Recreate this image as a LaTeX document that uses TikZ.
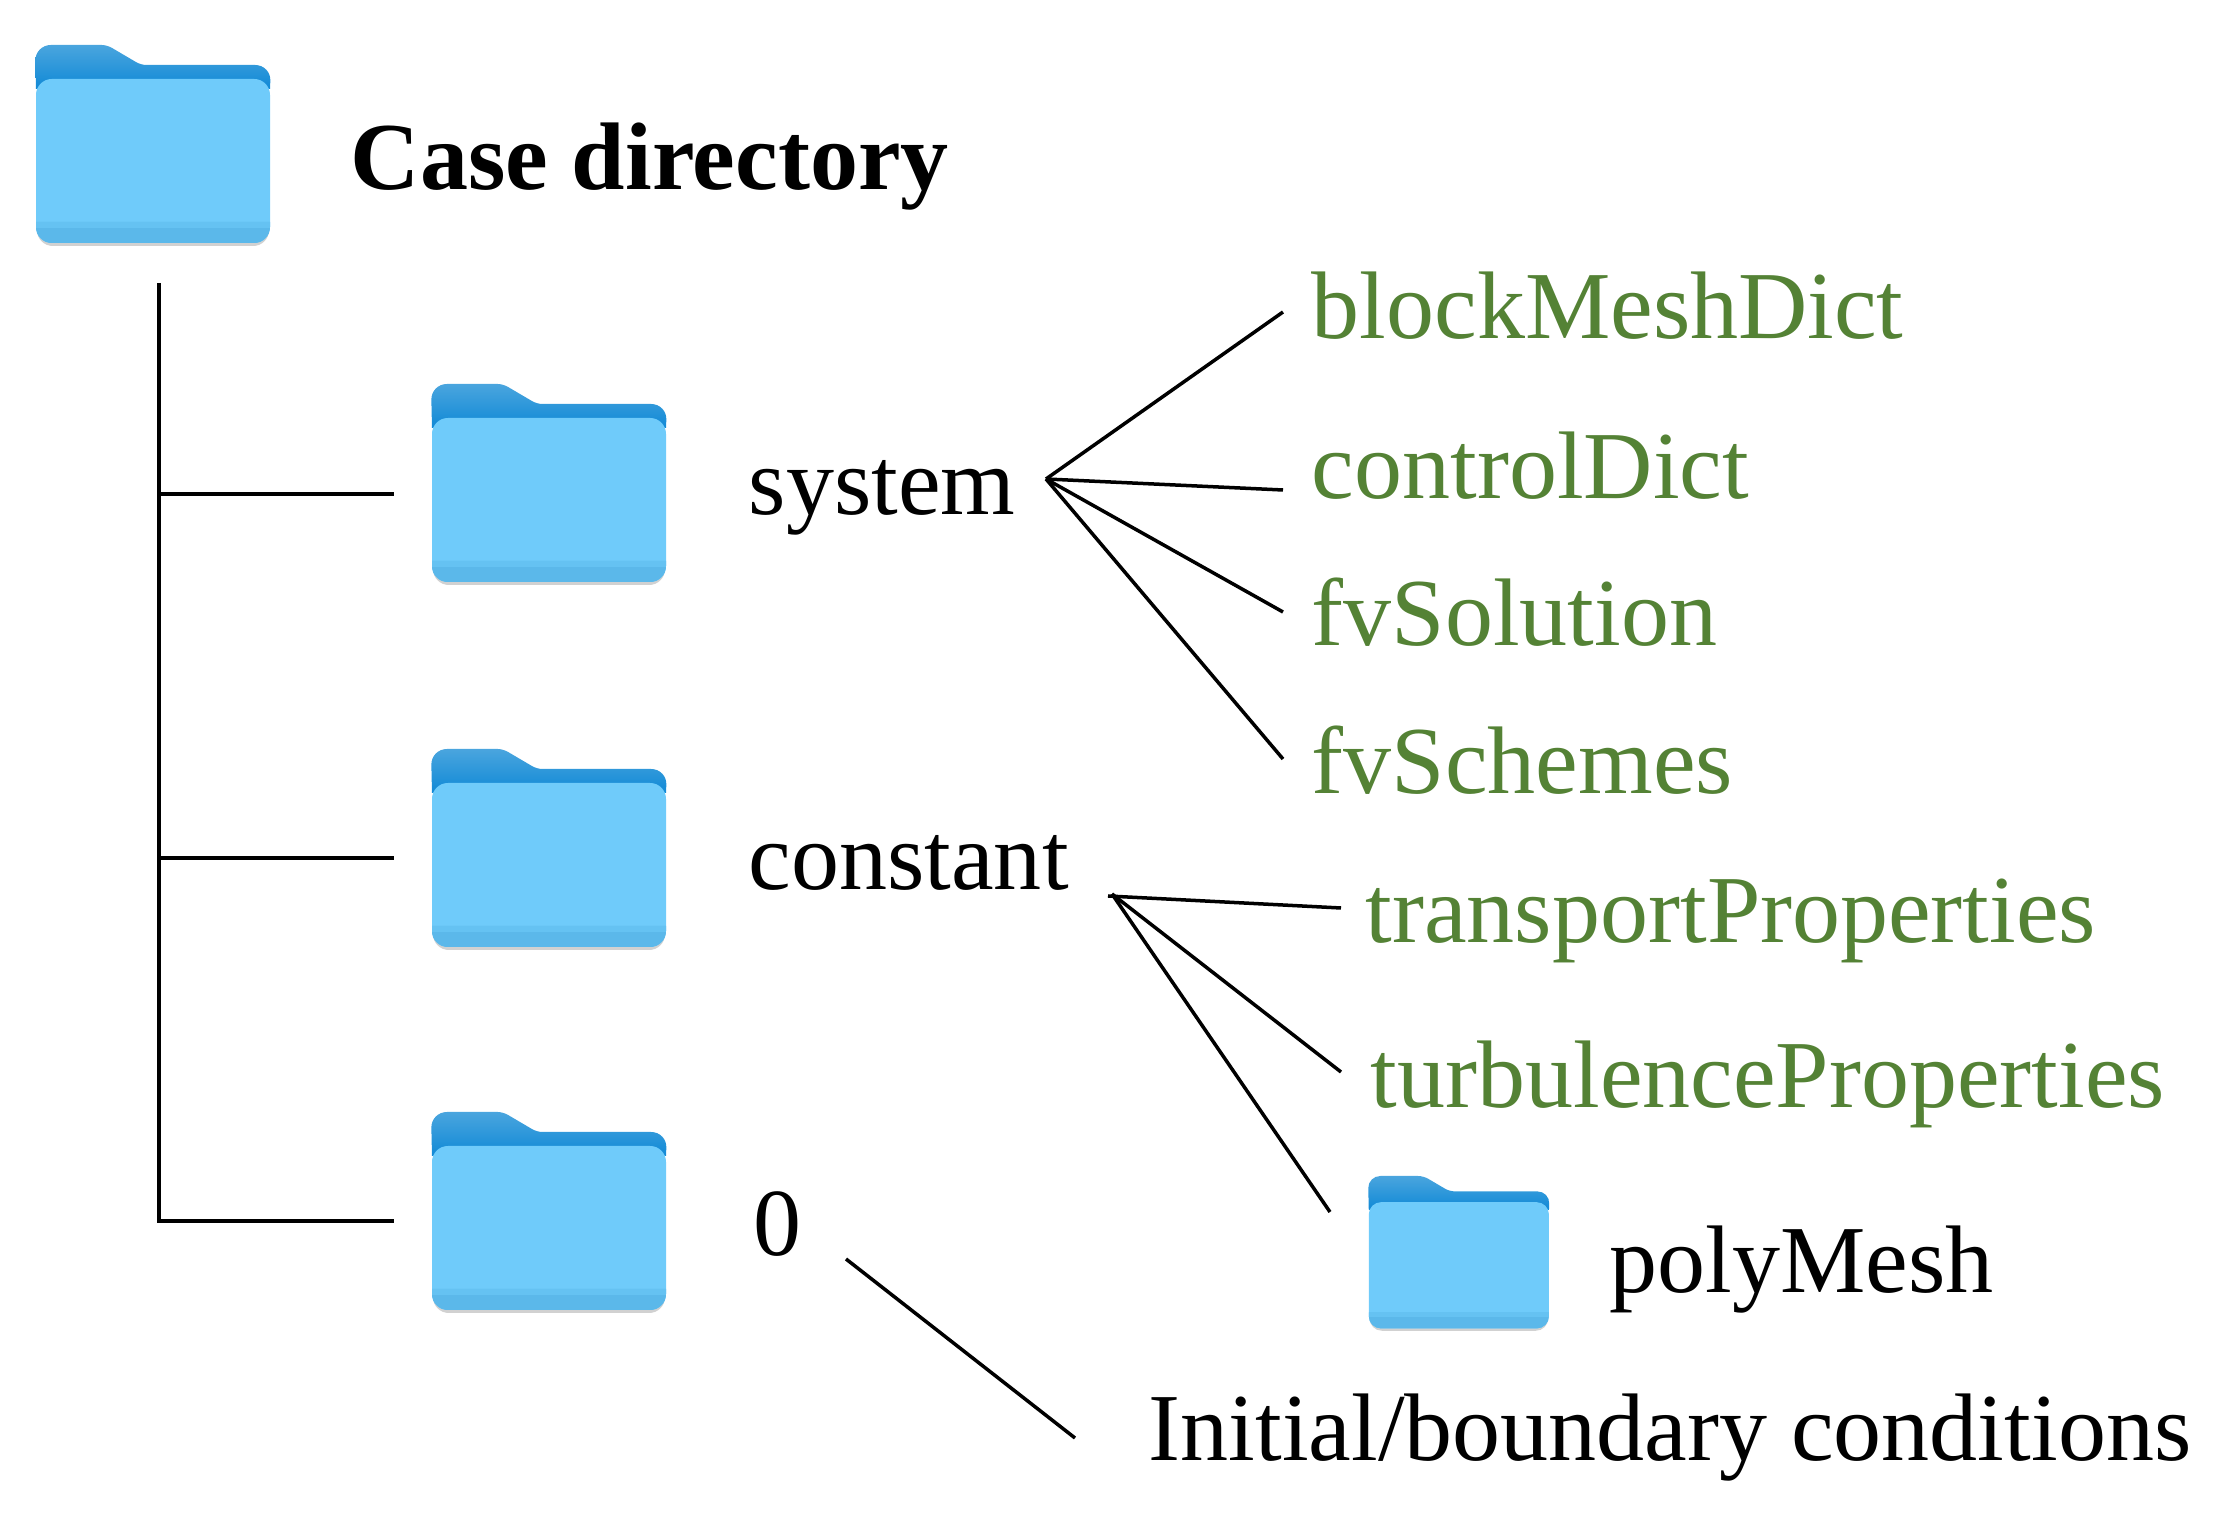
\documentclass[tikz,border=0pt]{standalone}
\usepackage{fontspec}
\setmainfont{Liberation Serif}
\usetikzlibrary{calc}
\usetikzlibrary{positioning}

\definecolor{folderback}{HTML}{1089D6}
\definecolor{foldertab}{HTML}{4AA5DE}
\definecolor{folderfront}{HTML}{6FCBFA}
\definecolor{folderstrip}{HTML}{5BB8EA}
\definecolor{filegreen}{HTML}{548235}

\tikzset{
    pics/folder/.style={code={
        \fill[black!30,opacity=0.6,rounded corners=#1] (2,60) rectangle (234,201);
        \shade[top color=foldertab,bottom color=folderback]
            (1,44) [rounded corners=#1] -- (0,0) [rounded corners=1.5pt] -- (72,0) -- (106,20)
            [rounded corners=#1] -- (236,20) [sharp corners] -- (235,44) -- cycle;
        \fill[folderfront,rounded corners=#1] (1,34) rectangle (235,198);
        \fill[folderstrip] (1,177) -- (235,177) [rounded corners=#1] -- (235,198) -- (1,198) [sharp corners] -- cycle;
        \fill[folderfront!50!folderstrip] (1,177) rectangle (235,183);
    }},
    label/.style={anchor=base west,inner sep=0pt,font=\fontsize{27.3}{32}\selectfont},
    filelabel/.style={label,text=filegreen},
    branch/.style={draw,line width=0.035cm},
}

\begin{document}
\begin{tikzpicture}[x=0.01cm,y=-0.01cm]
    \useasboundingbox (0,0) rectangle (2232,1534);

    % folders
    \pic at (35,45) {folder=4.5pt};
    \pic at (431,384) {folder=4.5pt};
    \pic at (431,749) {folder=4.5pt};
    \pic at (431,1112) {folder=4.5pt};
    \begin{scope}[shift={(1368,1176)},scale=0.77]
        \pic[transform shape] at (0,0) {folder=3.5pt};
    \end{scope}

    % names of the folders
    \node[label,font=\fontsize{27.3}{32}\selectfont\bfseries] (Case) at (350,190) {Case directory};
    \node[label] (System) at (748,515) {system};
    \node[label] (Constant) at (748,890) {constant};
    \node[label] (Zero) at (753,1256) {0};
    \node[label] (PolyMesh) at (1609,1293) {polyMesh};
    \node[label] (Initial) at (1148,1461) {Initial/boundary conditions};

    % files
    \node[filelabel] (BlockMesh) at (1311,339) {blockMeshDict};
    \node[filelabel] (Control) at (1311,499) {controlDict};
    \node[filelabel] (Solution) at (1311,646) {fvSolution};
    \node[filelabel] (Schemes) at (1311,794) {fvSchemes};
    \node[filelabel] (Transport) at (1365,943) {transportProperties};
    \node[filelabel] (Turbulence) at (1370,1108) {turbulenceProperties};

    % ends of the tree lines
    \coordinate (TreeTop) at (159,283);
    \coordinate (TreeEnd) at (159,1221);
    \coordinate (TreeSystem) at (159,494);
    \coordinate (TreeConstant) at (159,858);
    \coordinate (ToSystem) at (394,494);
    \coordinate (ToConstant) at (394,858);
    \coordinate (ToZero) at (394,1221);
    \coordinate (HubSystem) at (1046,479);
    \coordinate (EndBlockMesh) at (1283,312);
    \coordinate (EndControl) at (1283,490);
    \coordinate (EndSolution) at (1283,612);
    \coordinate (EndSchemes) at (1283,759);
    \coordinate (HubConstant) at (1108,896);
    \coordinate (HubConstantB) at (1112,894);
    \coordinate (EndTransport) at (1341,908);
    \coordinate (EndTurbulence) at (1341,1072);
    \coordinate (EndPolyMesh) at (1330,1212);
    \coordinate (ZeroStart) at (846,1259);
    \coordinate (ZeroEnd) at (1075,1438);

    \draw[branch] (TreeTop) -- (TreeEnd) -- (ToZero);
    \draw[branch] (TreeSystem) -- (ToSystem);
    \draw[branch] (TreeConstant) -- (ToConstant);
    \foreach \fileend in {EndBlockMesh,EndControl,EndSolution,EndSchemes}
        \draw[branch] (HubSystem) -- (\fileend);
    \draw[branch] (HubConstant) -- (EndTransport);
    \draw[branch] (HubConstantB) -- (EndTurbulence);
    \draw[branch] (HubConstantB) -- (EndPolyMesh);
    \draw[branch] (ZeroStart) -- (ZeroEnd);
\end{tikzpicture}
\end{document}
